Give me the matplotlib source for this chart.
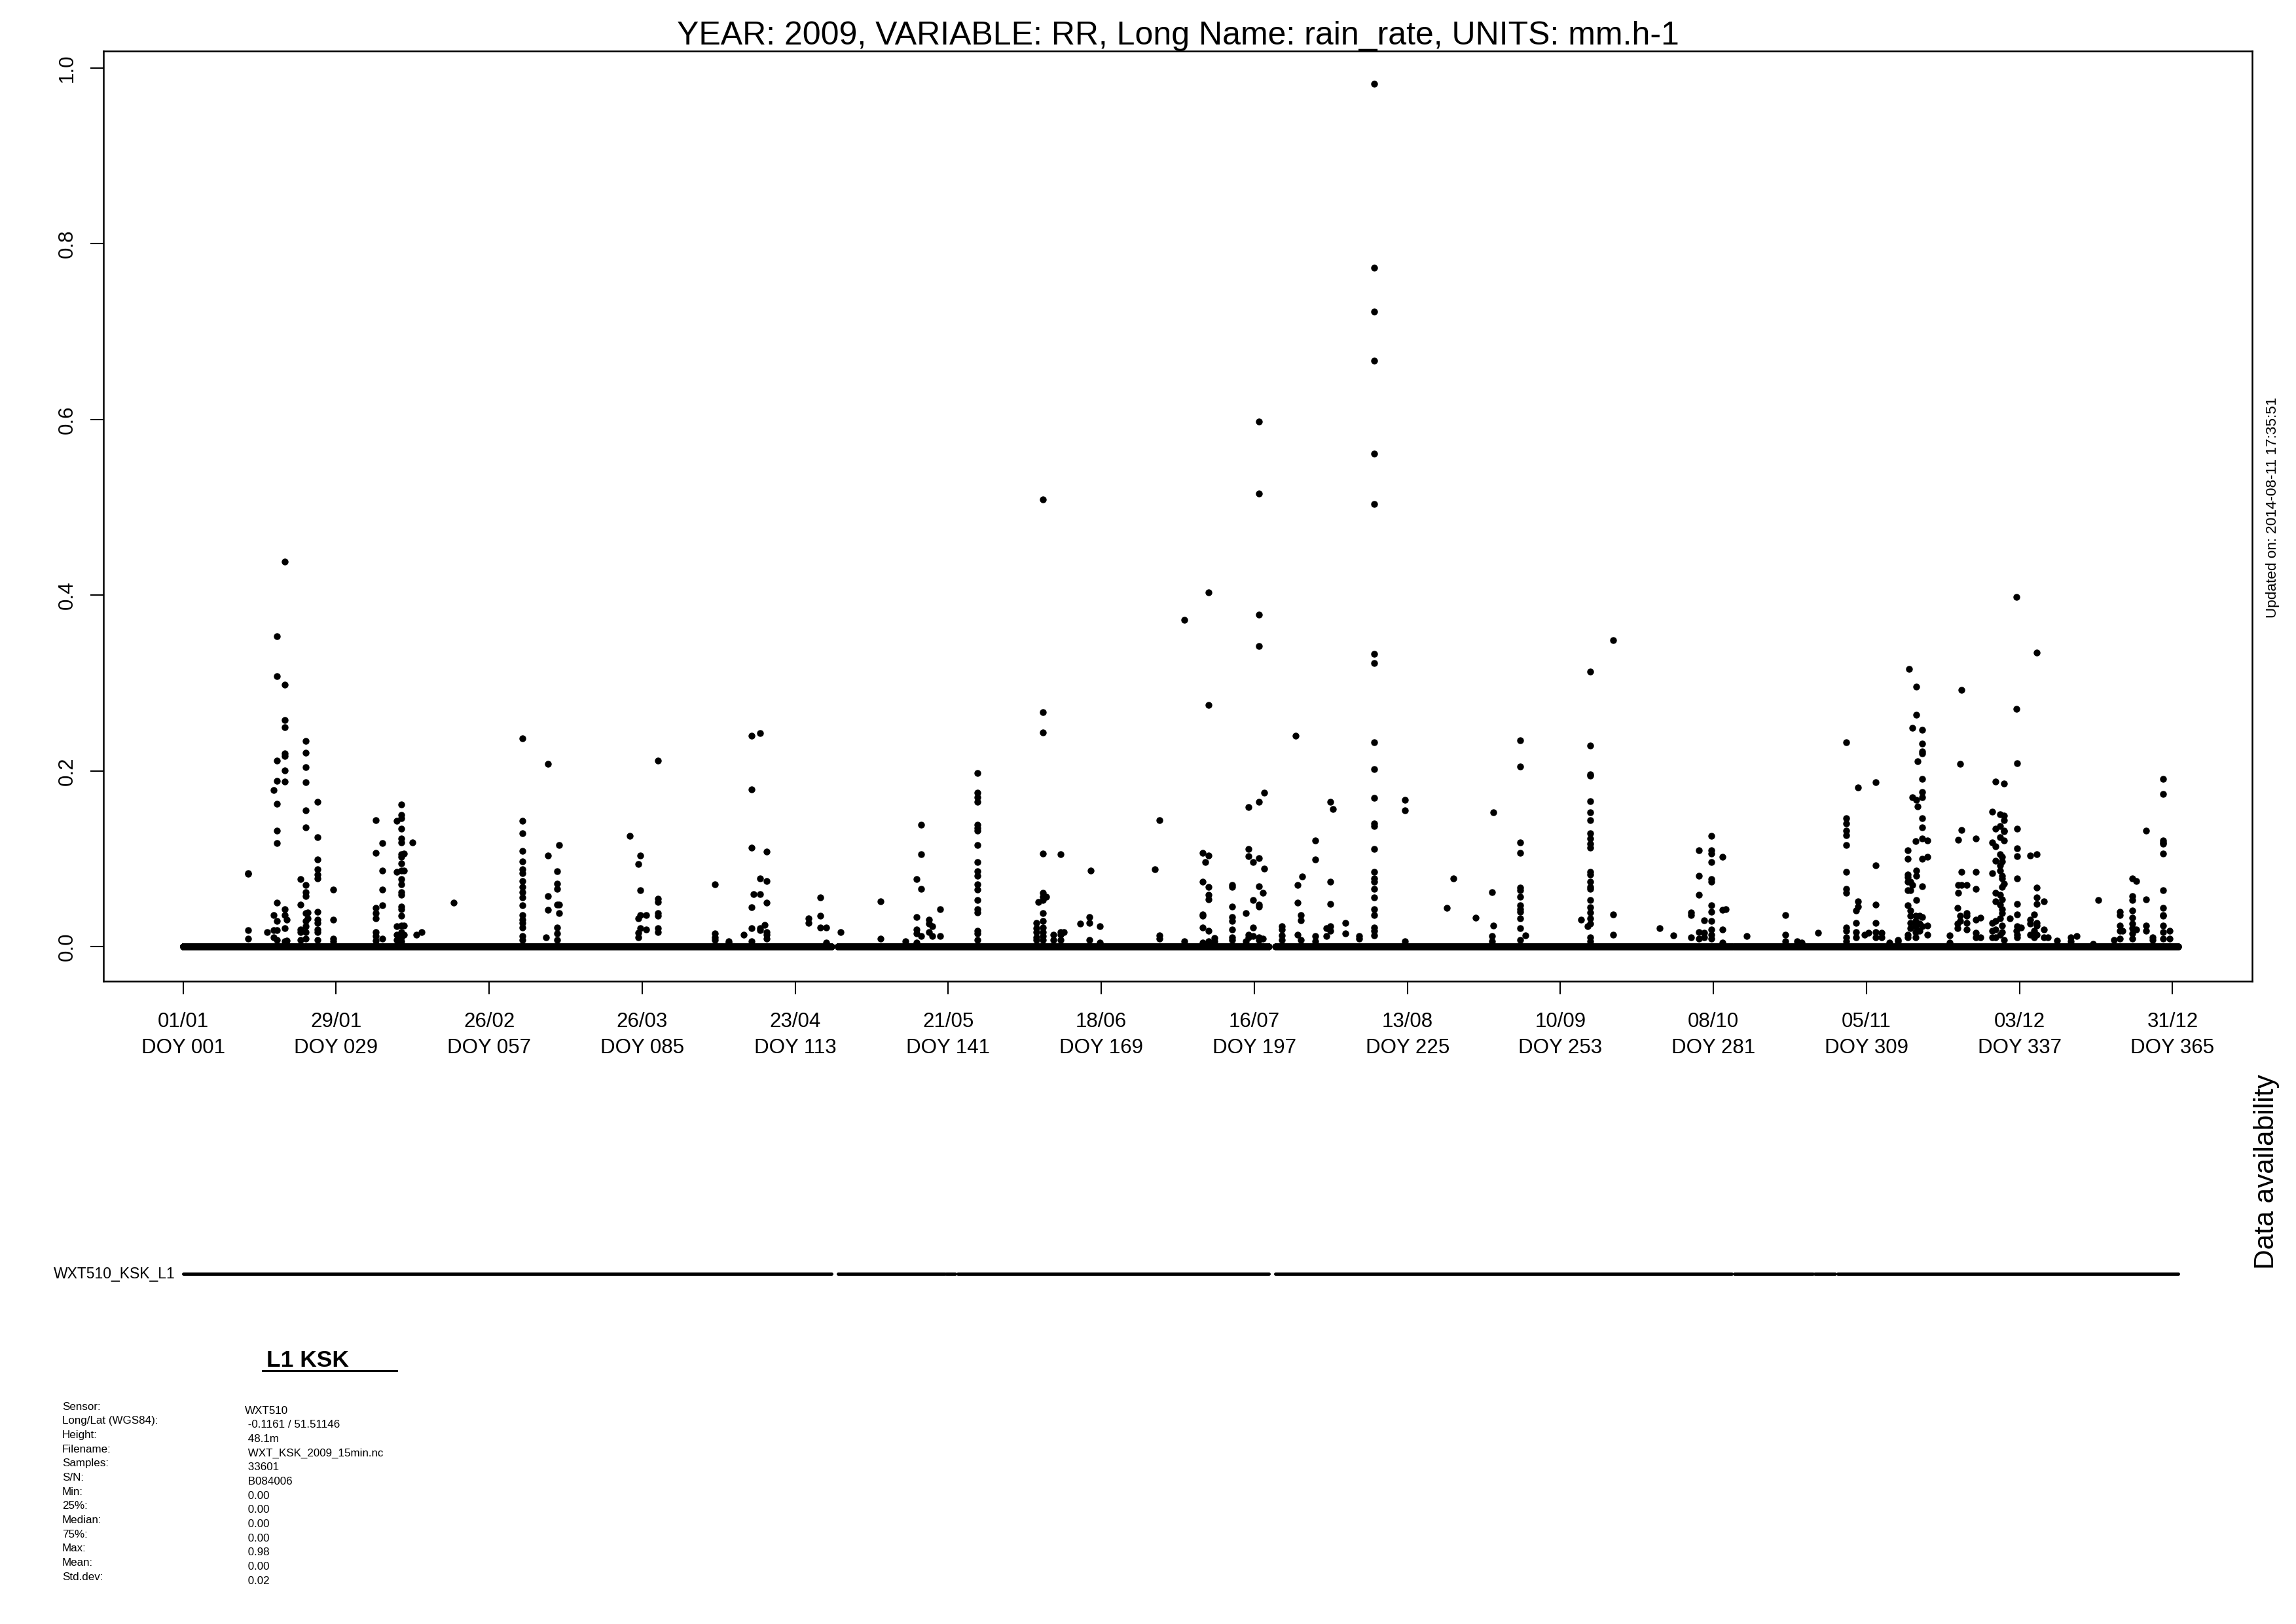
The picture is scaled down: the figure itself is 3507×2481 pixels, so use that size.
import numpy as np
import matplotlib
matplotlib.use("Agg")
import matplotlib.pyplot as plt
from matplotlib.lines import Line2D

plt.rcParams['font.family'] = ['Liberation Sans', 'DejaVu Sans']

# ---------------- data ----------------
title = "YEAR: 2009, VARIABLE: RR, Long Name: rain_rate, UNITS: mm.h-1"
tick_doy = [1, 29, 57, 85, 113, 141, 169, 197, 225, 253, 281, 309, 337, 365]
tick_dates = ["01/01", "29/01", "26/02", "26/03", "23/04", "21/05", "18/06",
              "16/07", "13/08", "10/09", "08/10", "05/11", "03/12", "31/12"]
ytick_vals = [0.0, 0.2, 0.4, 0.6, 0.8, 1.0]
ytick_labels = ["0.0", "0.2", "0.4", "0.6", "0.8", "1.0"]

# data availability intervals (day of year)
avail_start = [1.0, 120.8, 140.6, 142.7, 200.9, 260.4, 284.8, 299.6, 303.7]
avail_end = [119.6, 140.3, 142.3, 199.6, 260.2, 284.3, 299.2, 303.3, 366.0]
samples_per_day = 96  # 15-min data

# non-zero rain rates (mm/h), grouped by time column (DOY)
q1_doy = [12.9, 16.4, 17.6, 18.2, 19.6, 20.0, 22.5, 23.4, 23.8, 25.6, 28.5, 36.3, 37.5,
          40.1, 41.0, 41.4, 43.0, 43.7, 44.7, 50.5, 63.1, 67.4, 67.8, 69.4, 69.8, 82.8,
          84.3, 84.7, 85.7, 87.9]
q1_rr = [
    [0.083, 0.084, 0.019, 0.009],
    [0.017],
    [0.178, 0.036, 0.019, 0.011],
    [0.353, 0.308, 0.212, 0.189, 0.163, 0.132, 0.118, 0.050, 0.029, 0.019, 0.008],
    [0.438, 0.298, 0.258, 0.250, 0.220, 0.217, 0.201, 0.188, 0.043, 0.036, 0.021, 0.006],
    [0.031, 0.007],
    [0.077, 0.048, 0.020, 0.017, 0.008],
    [0.234, 0.221, 0.204, 0.187, 0.155, 0.136, 0.070, 0.062, 0.058, 0.038, 0.029, 0.023, 0.017, 0.009],
    [0.039, 0.032],
    [0.165, 0.125, 0.099, 0.088, 0.082, 0.078, 0.040, 0.031, 0.027, 0.020, 0.017, 0.008],
    [0.065, 0.031, 0.009, 0.006],
    [0.144, 0.107, 0.044, 0.038, 0.032, 0.017, 0.012, 0.007],
    [0.118, 0.087, 0.065, 0.047, 0.009],
    [0.143, 0.085, 0.023, 0.014, 0.008],
    [0.162, 0.150, 0.146, 0.134, 0.123, 0.119, 0.105, 0.102, 0.095, 0.087, 0.077, 0.071, 0.062,
     0.059, 0.046, 0.043, 0.035, 0.024, 0.017, 0.011, 0.006],
    [0.106, 0.087, 0.024, 0.014],
    [0.119],
    [0.014],
    [0.017],
    [0.050],
    [0.237, 0.143, 0.129, 0.109, 0.097, 0.088, 0.084, 0.075, 0.068, 0.062, 0.056, 0.047, 0.036,
     0.031, 0.027, 0.022, 0.012, 0.008],
    [0.011],
    [0.208, 0.104, 0.058, 0.042],
    [0.086, 0.072, 0.066, 0.048, 0.022, 0.015, 0.008],
    [0.116, 0.048, 0.038],
    [0.126],
    [0.094, 0.032, 0.016, 0.011],
    [0.104, 0.064, 0.036, 0.021],
    [0.036, 0.020],
    [0.212, 0.055, 0.051, 0.038, 0.035, 0.021, 0.017],
]

q2_doy = [98.3, 100.8, 103.6, 105.0, 105.4, 106.6, 107.4, 107.8, 115.4, 117.6, 118.7, 121.3,
          128.6, 133.2, 135.2, 136.0, 137.5, 138.1, 139.5, 146.4, 157.1, 157.5, 158.3, 158.9,
          160.2, 161.5, 162.2, 165.1, 166.8, 167.1, 168.8, 178.8, 179.6, 184.2]
q2_rr = [
    [0.071, 0.015, 0.011, 0.008],
    [0.006, 0.005],
    [0.014],
    [0.240, 0.179, 0.113, 0.045, 0.021, 0.006],
    [0.060],
    [0.243, 0.078, 0.060, 0.021, 0.019],
    [0.025],
    [0.108, 0.075, 0.050, 0.017, 0.014, 0.009],
    [0.032, 0.027],
    [0.056, 0.035, 0.022],
    [0.022, 0.005],
    [0.017],
    [0.052, 0.009],
    [0.006],
    [0.077, 0.034, 0.020, 0.015, 0.005],
    [0.139, 0.105, 0.066, 0.012],
    [0.031, 0.026, 0.017],
    [0.023, 0.012],
    [0.043, 0.012],
    [0.198, 0.175, 0.170, 0.165, 0.139, 0.135, 0.132, 0.116, 0.096, 0.086, 0.081, 0.071, 0.065,
     0.053, 0.043, 0.039, 0.018, 0.015, 0.008],
    [0.027, 0.021, 0.017, 0.011, 0.008],
    [0.051],
    [0.509, 0.267, 0.244, 0.106, 0.061, 0.057, 0.053, 0.038, 0.029, 0.022, 0.017, 0.012, 0.008],
    [0.057],
    [0.014, 0.008],
    [0.105, 0.017, 0.014, 0.008],
    [0.017],
    [0.026],
    [0.034, 0.027, 0.008],
    [0.087],
    [0.023, 0.005],
    [0.088],
    [0.144, 0.013, 0.009],
    [0.372, 0.006],
]

q3_doy = [187.6, 188.0, 188.6, 189.7, 193.0, 195.4, 195.9, 196.8, 197.9, 198.6, 198.8, 202.1,
          204.6, 204.9, 205.5, 205.7, 208.2, 210.2, 210.9, 211.4, 213.7, 216.2, 218.9, 224.6,
          232.2, 233.4, 237.5, 240.5, 240.7, 245.7, 246.6, 256.8, 258.0, 258.5, 262.7, 271.2,
          273.7]
q3_rr = [
    [0.107, 0.074, 0.037, 0.035, 0.022, 0.005],
    [0.096],
    [0.403, 0.275, 0.104, 0.068, 0.059, 0.054, 0.018, 0.006],
    [0.010, 0.006],
    [0.070, 0.068, 0.046, 0.034, 0.029, 0.020, 0.011, 0.008],
    [0.038, 0.006],
    [0.159, 0.111, 0.103, 0.014, 0.011],
    [0.096, 0.053, 0.022, 0.012],
    [0.598, 0.516, 0.378, 0.342, 0.165, 0.101, 0.069, 0.048, 0.046, 0.011, 0.008],
    [0.061, 0.009],
    [0.175, 0.089],
    [0.023, 0.020, 0.013, 0.008],
    [0.240],
    [0.070, 0.050, 0.014],
    [0.036, 0.030, 0.008],
    [0.080],
    [0.121, 0.099, 0.012, 0.006],
    [0.021, 0.012],
    [0.165, 0.074, 0.049, 0.023, 0.018],
    [0.157],
    [0.027, 0.015],
    [0.012, 0.009],
    [0.982, 0.773, 0.723, 0.667, 0.561, 0.504, 0.333, 0.323, 0.233, 0.202, 0.169, 0.140, 0.137,
     0.111, 0.085, 0.078, 0.074, 0.066, 0.056, 0.043, 0.036, 0.022, 0.018, 0.013],
    [0.167, 0.155, 0.006],
    [0.044],
    [0.078],
    [0.033],
    [0.062, 0.012, 0.006],
    [0.153, 0.024],
    [0.235, 0.205, 0.119, 0.107, 0.067, 0.064, 0.057, 0.047, 0.043, 0.040, 0.032, 0.021, 0.008],
    [0.013],
    [0.031],
    [0.023],
    [0.313, 0.229, 0.196, 0.195, 0.166, 0.153, 0.144, 0.129, 0.123, 0.117, 0.113, 0.085, 0.082,
     0.074, 0.068, 0.066, 0.053, 0.045, 0.039, 0.032, 0.026, 0.011, 0.006],
    [0.349, 0.037, 0.014],
    [0.021],
    [0.013],
]

q4_doy = [276.9, 278.4, 279.3, 280.6, 282.6, 283.3, 287.1, 294.1, 296.3, 297.2, 300.2, 305.3,
          307.1, 307.4, 308.6, 309.4, 310.7, 311.8, 313.2, 314.7, 316.6, 316.8, 317.0, 317.4,
          318.0, 318.1, 318.4, 318.7, 319.2, 320.1, 324.2, 325.6, 325.8, 326.1, 326.4, 327.3,
          329.0, 329.9, 332.0, 332.6, 333.4, 333.8, 334.2, 335.3, 336.4, 336.6, 337.3, 338.9,
          339.7, 340.2, 341.5, 342.2, 343.9, 346.4, 347.4, 350.5, 351.4, 354.3, 355.4, 355.8,
          357.7, 358.3, 360.1, 361.3, 363.3, 364.5]
q4_rr = [
    [0.039, 0.036, 0.011],
    [0.110, 0.081, 0.059, 0.017, 0.009],
    [0.030, 0.016, 0.011],
    [0.126, 0.110, 0.106, 0.096, 0.077, 0.074, 0.047, 0.040, 0.029, 0.020, 0.014, 0.009],
    [0.102, 0.042, 0.020, 0.005],
    [0.043],
    [0.012],
    [0.036, 0.014, 0.006],
    [0.006],
    [0.005],
    [0.016],
    [0.233, 0.146, 0.140, 0.132, 0.127, 0.116, 0.085, 0.066, 0.061, 0.022, 0.018, 0.011, 0.006],
    [0.041, 0.027, 0.017, 0.011],
    [0.181, 0.052, 0.046],
    [0.014],
    [0.016],
    [0.187, 0.093, 0.048, 0.027, 0.017, 0.011],
    [0.016, 0.011],
    [0.005],
    [0.006, 0.008],
    [0.110, 0.100, 0.082, 0.079, 0.074, 0.064, 0.047, 0.014, 0.011],
    [0.316],
    [0.074, 0.064, 0.041, 0.035, 0.027, 0.021],
    [0.249, 0.170, 0.070],
    [0.120, 0.035, 0.029, 0.023, 0.017, 0.011],
    [0.296, 0.264, 0.167, 0.087, 0.081, 0.053],
    [0.211, 0.160],
    [0.035, 0.026, 0.018],
    [0.247, 0.231, 0.222, 0.220, 0.191, 0.176, 0.170, 0.146, 0.136, 0.123, 0.100, 0.069, 0.034, 0.023],
    [0.121, 0.102, 0.024, 0.014],
    [0.013, 0.005],
    [0.044, 0.026, 0.021],
    [0.122, 0.070, 0.061],
    [0.208, 0.035, 0.029],
    [0.292, 0.133, 0.085, 0.070],
    [0.070, 0.038, 0.035, 0.027, 0.020],
    [0.123, 0.085, 0.066, 0.031, 0.016, 0.011],
    [0.033, 0.011],
    [0.154, 0.119, 0.084, 0.027, 0.018, 0.011],
    [0.188, 0.134, 0.114, 0.098, 0.061, 0.052, 0.029, 0.020, 0.011],
    [0.151, 0.137, 0.125, 0.105, 0.093, 0.087, 0.059, 0.048, 0.032, 0.014],
    [0.102, 0.097, 0.081, 0.078, 0.068, 0.054, 0.043, 0.038, 0.024, 0.017],
    [0.186, 0.149, 0.144, 0.132, 0.131, 0.121, 0.072, 0.008],
    [0.032],
    [0.398, 0.271, 0.018],
    [0.209, 0.134, 0.112, 0.103, 0.078, 0.049, 0.037, 0.023, 0.014, 0.011],
    [0.022],
    [0.104, 0.031, 0.026, 0.014],
    [0.037, 0.018, 0.011],
    [0.335, 0.105, 0.067, 0.056, 0.049, 0.027, 0.024, 0.014],
    [0.052, 0.020, 0.011],
    [0.011],
    [0.007],
    [0.011, 0.006],
    [0.012],
    [0.003],
    [0.053],
    [0.008],
    [0.040, 0.036, 0.024, 0.018, 0.009],
    [0.018],
    [0.078, 0.058, 0.053, 0.041, 0.033, 0.026, 0.021, 0.015, 0.009],
    [0.075, 0.020],
    [0.132, 0.054, 0.024, 0.018],
    [0.011, 0.008],
    [0.191, 0.174, 0.121, 0.119, 0.117, 0.106, 0.064, 0.044, 0.036, 0.035, 0.024, 0.017, 0.009],
    [0.018, 0.009],
]

station_title = "L1 KSK"
series_label = "WXT510_KSK_L1"
updated_text = "Updated on: 2014-08-11 17:35:51"
info_labels = ["Sensor:", "Long/Lat (WGS84):", "Height:", "Filename:", "Samples:", "S/N:",
               "Min:", "25%:", "Median:", "75%:", "Max:", "Mean:", "Std.dev:"]
info_values = ["WXT510", " -0.1161 / 51.51146", " 48.1m", " WXT_KSK_2009_15min.nc", " 33601",
               " B084006", " 0.00", " 0.00", " 0.00", " 0.00", " 0.98", " 0.00", " 0.02"]

# ---------------- build series ----------------
rain_x, rain_y = [], []
for doys, rrs in [(q1_doy, q1_rr), (q2_doy, q2_rr), (q3_doy, q3_rr), (q4_doy, q4_rr)]:
    assert len(doys) == len(rrs)
    for d, vals in zip(doys, rrs):
        for v in vals:
            rain_x.append(d)
            rain_y.append(v)

zero_x = np.concatenate([np.arange(s, e, 1.0 / samples_per_day)
                         for s, e in zip(avail_start, avail_end)])
zero_y = np.zeros_like(zero_x)

# ---------------- figure ----------------
W, H = 3507, 2481
DPI = 300
fig = plt.figure(figsize=(W / DPI, H / DPI), dpi=DPI)


def fx(px):
    return px / W


def fy(py):
    return 1 - py / H


L, R, T, B = 158, 3440, 78, 1499
ax = fig.add_axes([fx(L), fy(B), (R - L) / W, (B - T) / H])
xlim = (-13.56, 379.56)
ax.set_xlim(*xlim)
ax.set_ylim(-0.0392, 1.0192)

ms = 2.5
ax.plot(zero_x, zero_y, 'o', ms=ms, color='black', mew=0, linestyle='none')
ax.plot(rain_x, rain_y, 'o', ms=ms, color='black', mew=0, linestyle='none')

for sp in ax.spines.values():
    sp.set_linewidth(0.6)

ax.set_xticks(tick_doy)
ax.set_xticklabels([f"{d}\nDOY {n:03d}" for d, n in zip(tick_dates, tick_doy)],
                   fontsize=7.5, linespacing=1.45)
ax.set_yticks(ytick_vals)
ax.set_yticklabels(ytick_labels, fontsize=7.5, rotation=90, va='center')
ax.tick_params(axis='both', direction='out', length=4.8, width=0.5)
ax.tick_params(axis='x', pad=6.5)
ax.tick_params(axis='y', pad=4.8)

ax.set_title(title, fontsize=12, pad=1.7)

# right-side annotation
fig.text(fx(3471), fy(775), updated_text, rotation=90, fontsize=5.4,
         ha='center', va='center')

# ---------------- data availability panel ----------------
ax2 = fig.add_axes([fx(L), fy(2046), (R - L) / W, 200 / H])
ax2.set_xlim(*xlim)
ax2.set_ylim(0, 2)
ax2.axis('off')
for s, e in zip(avail_start, avail_end):
    ax2.plot([s, e], [1, 1], color='black', lw=1.2, solid_capstyle='round')

fig.text(fx(268), fy(1946), series_label, fontsize=5.5, ha='right', va='center')
fig.text(fx(3462), fy(1790), "Data availability", rotation=90, fontsize=10.2,
         ha='center', va='center')

# ---------------- info block ----------------
fig.text(fx(407), fy(2088), station_title, fontsize=8.5, fontweight='bold',
         ha='left', va='baseline')
fig.add_artist(Line2D([fx(401), fx(606)], [fy(2094), fy(2094)], color='black', lw=0.7))

for i, (lab, val) in enumerate(zip(info_labels, info_values)):
    fig.text(fx(95), fy(2149 + 21.7 * i), lab, fontsize=4.1, ha='left', va='center')
    fig.text(fx(374), fy(2155 + 21.7 * i), val, fontsize=4.1, ha='left', va='center')

fig.savefig("out.png", dpi=DPI)
